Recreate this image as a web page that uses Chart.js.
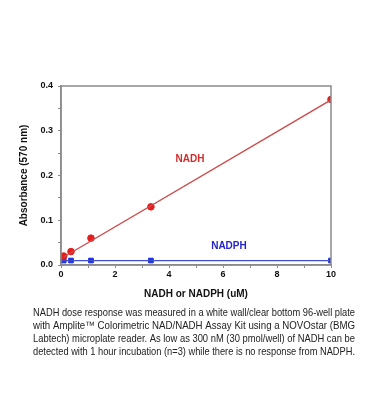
<!DOCTYPE html>
<html>
<head>
<meta charset="utf-8">
<script src="https://cdn.jsdelivr.net/npm/chart.js@4"></script>
<style>
  html, body { margin: 0; padding: 0; background: #fff; }
  #wrap { width: 368px; height: 420px; }
</style>
</head>
<body>
<div id="wrap"><canvas id="chart" width="368" height="420"></canvas></div>
<script>
// concentrations (uM)
var conc = [0.1, 0.37, 1.11, 3.33, 10];
var nadh = [0.02, 0.03, 0.06, 0.13, 0.37];
var nadph = [0.01, 0.01, 0.01, 0.01, 0.01];
// fitted lines
var nadhFitX = [0.1, 10];
var nadhFitY = [0.018, 0.369];
var nadphFitX = [0, 10];
var nadphFitY = [0.01, 0.01];

var caption = [
  "NADH dose response was measured in a white wall/clear bottom 96-well plate",
  "with Amplite\u2122 Colorimetric NAD/NADH Assay Kit using a NOVOstar (BMG",
  "Labtech) microplate reader. As low as 300 nM (30 pmol/well) of NADH can be",
  "detected with 1 hour incubation (n=3) while there is no response from NADPH."
];

function pts(xs, ys) {
  return xs.map(function(x, i) { return {x: x, y: ys[i]}; });
}

var FONT = "'Liberation Sans', Arial, sans-serif";

var extras = {
  id: "extras",
  afterDraw: function(chart) {
    var ctx = chart.ctx, a = chart.chartArea;
    var xs = chart.scales.x, ys = chart.scales.y;
    ctx.save();
    // frame
    ctx.strokeStyle = "#8a8a8a";
    ctx.lineWidth = 1.5;
    ctx.strokeRect(a.left, a.top, a.right - a.left, a.bottom - a.top);
    // labels
    ctx.font = "bold 10px " + FONT;
    ctx.textAlign = "center";
    ctx.textBaseline = "middle";
    ctx.fillStyle = "#d42a2a";
    ctx.fillText("NADH", xs.getPixelForValue(4.78), ys.getPixelForValue(0.237));
    ctx.fillStyle = "#2323c8";
    ctx.fillText("NADPH", xs.getPixelForValue(6.22), ys.getPixelForValue(0.042));
    // caption
    ctx.fillStyle = "#222";
    ctx.font = "11px " + FONT;
    ctx.textAlign = "left";
    ctx.textBaseline = "middle";
    caption.forEach(function(line, i) {
      ctx.fillText(line, 33, 313 + i * 13, 322);
    });
    ctx.restore();
  }
};

new Chart(document.getElementById("chart").getContext("2d"), {
  type: "scatter",
  data: {
    datasets: [
      {
        label: "NADH fit",
        data: pts(nadhFitX, nadhFitY),
        showLine: true,
        borderColor: "#cf4a4a",
        borderWidth: 1.3,
        pointRadius: 0
      },
      {
        label: "NADPH fit",
        data: pts(nadphFitX, nadphFitY),
        showLine: true,
        borderColor: "#3f4fd0",
        borderWidth: 1.3,
        pointRadius: 0
      },
      {
        label: "NADH",
        data: pts(conc, nadh),
        backgroundColor: "#e41e1e",
        borderColor: "#e41e1e",
        pointStyle: "circle",
        pointRadius: 3.3
      },
      {
        label: "NADPH",
        data: pts(conc, nadph),
        backgroundColor: "#1a2ee6",
        borderColor: "#1a2ee6",
        pointStyle: "rect",
        pointRadius: 3.3
      }
    ]
  },
  options: {
    responsive: false,
    animation: false,
    layout: { padding: { left: 18, right: 37, top: 86, bottom: 120 } },
    plugins: { legend: { display: false }, tooltip: { enabled: false } },
    scales: {
      x: {
        min: 0, max: 10,
        afterFit: function(s) { s.height = 35; },
        ticks: {
          stepSize: 1,
          maxRotation: 0,
          autoSkip: false,
          padding: 1,
          color: "#111",
          font: { family: FONT, size: 9, weight: "bold" },
          callback: function(v) { return v % 2 === 0 ? String(v) : ""; }
        },
        grid: { drawOnChartArea: false, tickLength: 3, color: "#8a8a8a" },
        border: { color: "#8a8a8a", width: 1.5 },
        title: {
          display: true,
          text: "NADH or NADPH (uM)",
          color: "#111",
          font: { family: FONT, size: 10, weight: "bold" },
          padding: { top: 2, bottom: 0 }
        }
      },
      y: {
        min: 0, max: 0.4,
        afterFit: function(s) { s.width = 43; },
        ticks: {
          stepSize: 0.05,
          autoSkip: false,
          padding: 5,
          color: "#111",
          font: { family: FONT, size: 9, weight: "bold" },
          callback: function(v) {
            var k = Math.round(v * 100);
            return k % 10 === 0 ? (k / 100).toFixed(1) : "";
          }
        },
        grid: { drawOnChartArea: false, tickLength: 3, color: "#8a8a8a" },
        border: { color: "#8a8a8a", width: 1.5 },
        title: {
          display: true,
          text: "Absorbance (570 nm)",
          color: "#111",
          font: { family: FONT, size: 10, weight: "bold" },
          padding: { top: 0, bottom: 0 }
        }
      }
    }
  },
  plugins: [extras]
});
</script>
</body>
</html>
